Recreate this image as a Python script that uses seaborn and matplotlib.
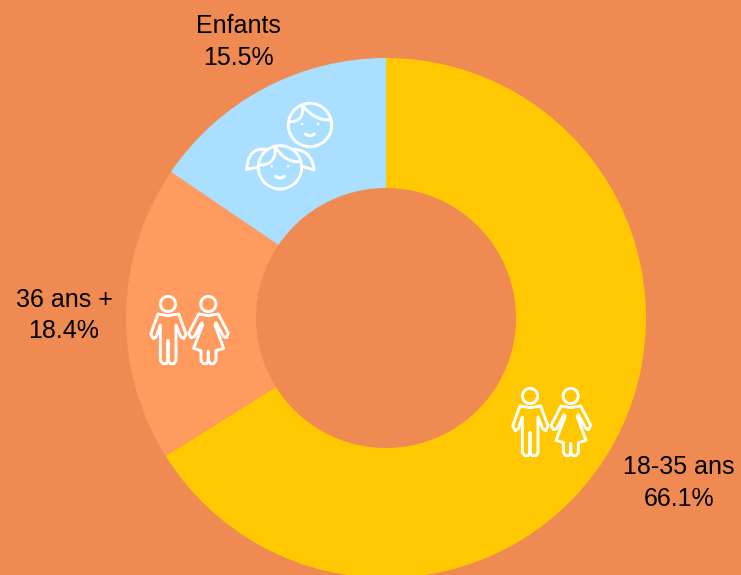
import matplotlib
matplotlib.use("Agg")
import matplotlib.pyplot as plt
import seaborn as sns
from matplotlib.patches import Circle, PathPatch
from matplotlib.path import Path

groups = ["18-35 ans", "36 ans +", "Enfants"]
shares = [66.1, 18.4, 15.5]
colors = ["#FFC800", "#FF9B5F", "#ABDFFF"]
background = "#EF8B52"

W, H = 741, 575
ICON_LW = 2.1

sns.set_theme(style="white")
plt.rcParams["font.family"] = ["Liberation Sans", "DejaVu Sans"]

fig = plt.figure(figsize=(W / 100, H / 100), dpi=100, facecolor=background)
ax = fig.add_axes([0, 0, 1, 1], facecolor=background)

ax.pie(shares, colors=sns.color_palette(colors), startangle=90, counterclock=False,
       center=(386, H - 318), radius=260, frame=True,
       wedgeprops={"width": 130, "linewidth": 0})
ax.set_xlim(0, W)
ax.set_ylim(0, H)
ax.set_xticks([])
ax.set_yticks([])
for s in ax.spines.values():
    s.set_visible(False)


def stroke(pts, codes=None, closed=False):
    # pts come in picture pixels, y going down
    verts = [(x, H - y) for x, y in pts]
    if codes is None:
        codes = [Path.MOVETO] + [Path.LINETO] * (len(verts) - 1)
    if closed:
        verts.append(verts[0])
        codes = list(codes) + [Path.CLOSEPOLY]
    ax.add_patch(PathPatch(Path(verts, codes), fill=False, edgecolor="white", lw=ICON_LW,
                           capstyle="round", joinstyle="round"))


def ring(x, y, r):
    ax.add_patch(Circle((x, H - y), r, fill=False, edgecolor="white", lw=ICON_LW))


# outlines measured on a 3x crop, relative to the head centre
MAN = [(-30, 30), (-52, 90), (-44, 104), (-35, 98), (-23, 63), (-23, 170), (-15, 179), (-5, 179),
       (0, 170), (0, 110), (0, 170), (7, 179), (18, 179), (24, 170), (24, 63), (38, 98), (47, 104),
       (54, 90), (32, 30), (0, 35)]
WOMAN = [(-29, 30), (-59, 88), (-52, 101), (-42, 98), (-20, 56), (-17, 63), (-44, 133), (-22, 140),
         (-22, 170), (-15, 179), (-5, 179), (0, 170), (0, 143), (0, 170), (6, 179), (16, 179),
         (23, 170), (23, 140), (46, 133), (20, 63), (23, 56), (46, 98), (54, 101), (60, 88),
         (30, 30), (0, 35)]


def person(x, y, outline):
    ring(x, y, 7.6)
    stroke([(x + px / 3, y + py / 3) for px, py in outline], closed=True)


def couple(x_man, x_woman, y):
    person(x_man, y, MAN)
    person(x_woman, y, WOMAN)


couple(530, 570.7, 396)
couple(168, 208.3, 304)


def curve(pts):
    # quadratic segments: start, ctrl, end, ctrl, end ...
    stroke(pts, [Path.MOVETO] + [Path.CURVE3] * (len(pts) - 1))


def face(cx, cy):
    ring(cx, cy, 21.7)
    for dx in (-8, 8):
        ax.add_patch(Circle((cx + dx, H - (cy - 1)), 1.2, color="white", lw=0))
    curve([(cx - 4.5, cy + 9), (cx, cy + 12.5), (cx + 4.5, cy + 9)])


# boy
face(310, 125)
curve([(302.7, 106), (304, 122), (290, 121.7)])
curve([(302.7, 106), (315, 121), (331, 120)])

# girl
face(280, 167.3)
curve([(275, 146.7), (277, 165), (260, 165)])
curve([(275, 146.7), (285, 163), (300.7, 161.7)])
curve([(266, 149.3), (248, 147), (246.7, 169.3)])
curve([(246.7, 169.3), (254, 168), (258.3, 167)])
curve([(293.3, 149.3), (312, 150), (314, 170)])
curve([(314, 170), (307, 168), (301.7, 166)])

# labels
label_pos = [(679, 483), (64, 315.5), (238, 42)]
for name, share, (lx, ly) in zip(groups, shares, label_pos):
    ax.text(lx, H - ly, f"{name}\n{share}%", ha="center", va="center", fontsize=18,
            color="black", linespacing=1.38)

fig.savefig("out.png", dpi=100, facecolor=background)
